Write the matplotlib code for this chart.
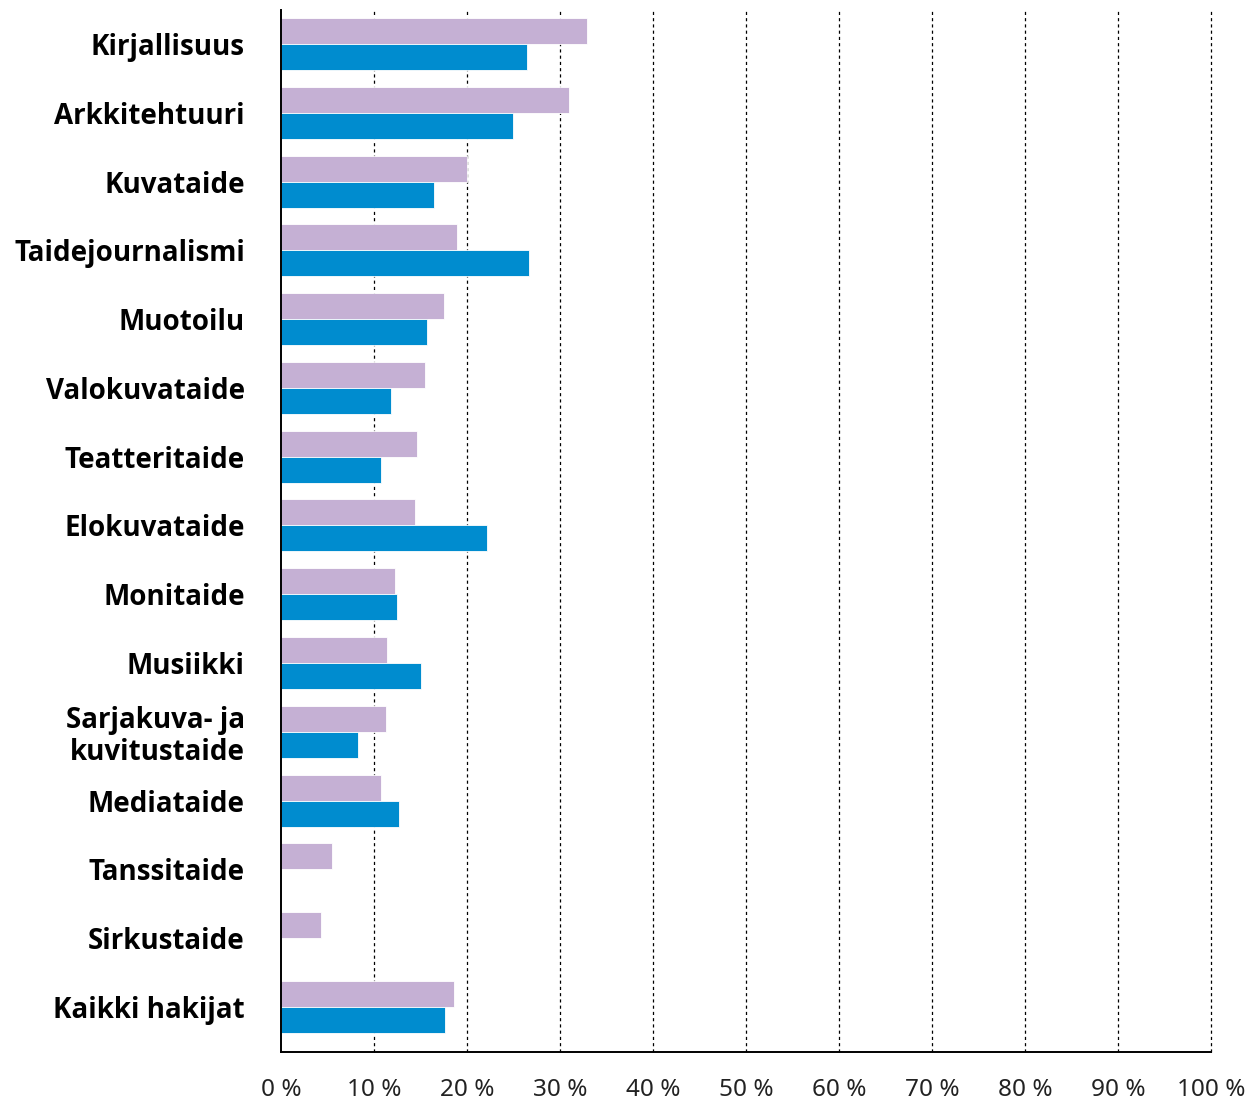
import matplotlib
matplotlib.use("Agg")
import matplotlib.pyplot as plt
import numpy as np

CATEGORIES = [
    "Kirjallisuus",
    "Arkkitehtuuri",
    "Kuvataide",
    "Taidejournalismi",
    "Muotoilu",
    "Valokuvataide",
    "Teatteritaide",
    "Elokuvataide",
    "Monitaide",
    "Musiikki",
    "Sarjakuva- ja\nkuvitustaide",
    "Mediataide",
    "Tanssitaide",
    "Sirkustaide",
    "Kaikki hakijat",
]

# purple (upper) bars, percent
PURPLE_VALUES = [32.9, 31.0, 20.0, 18.9, 17.5, 15.5, 14.6, 14.4, 12.3, 11.4, 11.3, 10.8, 5.5, 4.3, 18.6]
# blue (lower) bars, percent; nan = no bar
BLUE_VALUES = [26.5, 24.9, 16.5, 26.7, 15.7, 11.8, 10.8, 22.2, 12.5, 15.0, 8.3, 12.7, np.nan, np.nan, 17.6]

X_TICKS = list(range(0, 101, 10))
X_TICK_LABELS = [f"{t} %" for t in X_TICKS]

PURPLE = "#c5b0d4"
BLUE = "#008ccf"

plt.rcParams["font.family"] = ["Open Sans", "Noto Sans", "DejaVu Sans"]

fig = plt.figure(figsize=(12.54, 11.02), dpi=100)
ax = fig.add_axes([281 / 1254, 1 - 1052 / 1102, 930 / 1254, 1042 / 1102])

y = np.arange(len(CATEGORIES))
bar_h = 0.378
ax.barh(y - bar_h / 2, PURPLE_VALUES, height=bar_h, color=PURPLE,
        edgecolor="white", linewidth=0.6, zorder=3)
ax.barh(y + bar_h / 2, BLUE_VALUES, height=bar_h, color=BLUE,
        edgecolor="white", linewidth=0.6, zorder=3)

ax.set_xlim(0, 100)
ax.set_ylim(14.654, -0.494)

ax.set_yticks(y)
ax.set_yticklabels(CATEGORIES, fontsize=20, fontweight="bold", linespacing=1.1)
ax.set_xticks(X_TICKS)
ax.set_xticklabels(X_TICK_LABELS, fontsize=17.5, color="#222222",
                   family=["Noto Sans", "DejaVu Sans"])

ax.tick_params(axis="y", length=0, pad=26)
ax.tick_params(axis="x", length=0, pad=19)

for t in X_TICKS[1:]:
    ax.axvline(t, color="black", linestyle=(0, (2.5, 2.5)), linewidth=0.9,
               zorder=1, clip_on=False)

for side in ["top", "right"]:
    ax.spines[side].set_visible(False)
ax.spines["left"].set_linewidth(1.4)
ax.spines["bottom"].set_linewidth(1.4)
ax.spines["left"].set_zorder(4)

fig.savefig("out.png", dpi=100)
